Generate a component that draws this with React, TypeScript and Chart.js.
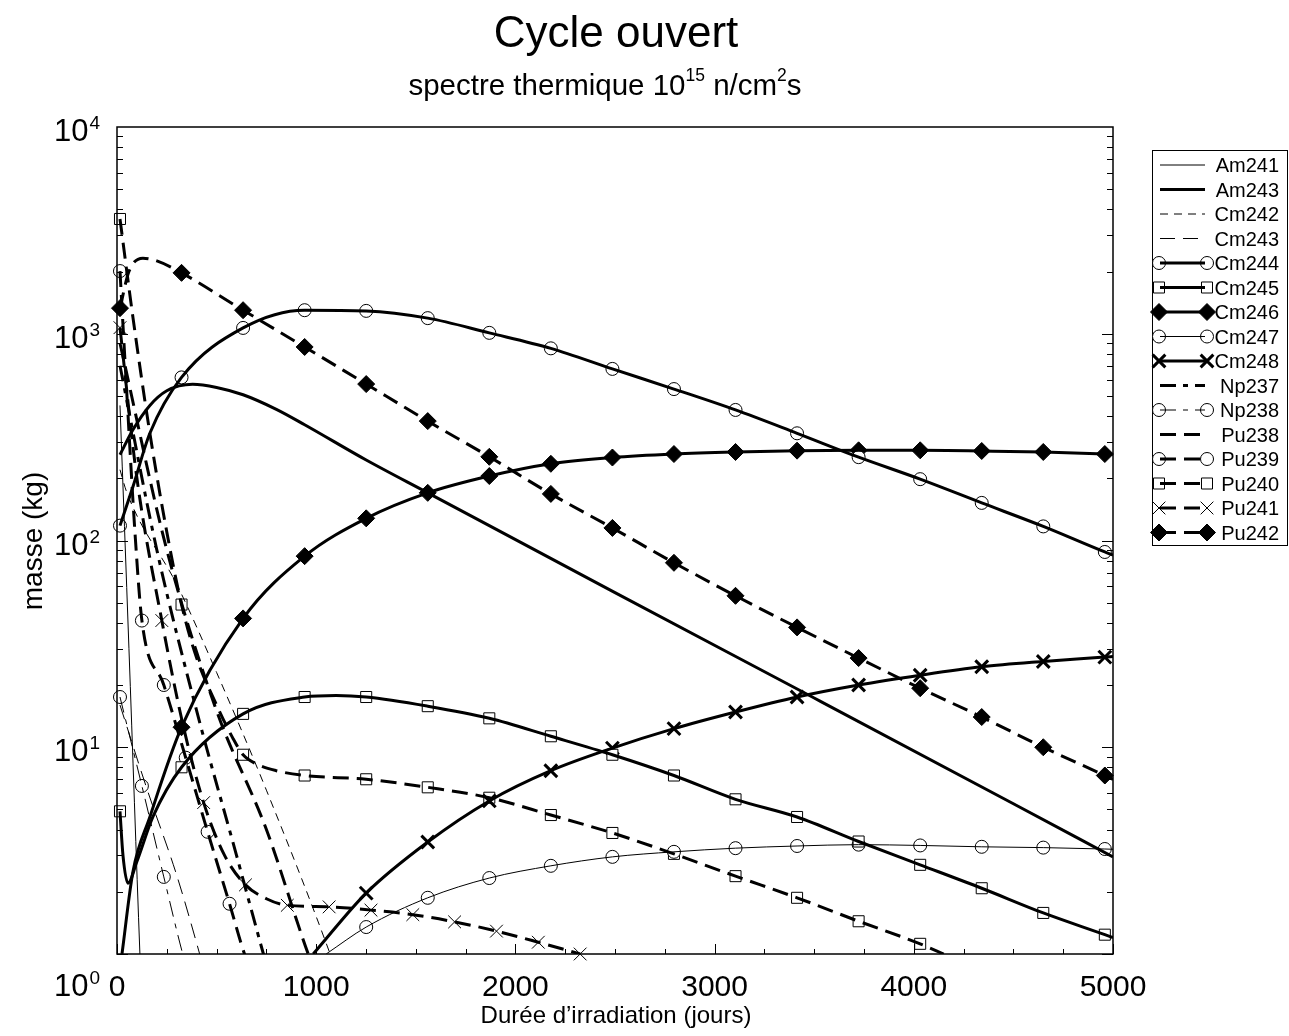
import React, { useEffect, useRef } from "react";
import { Chart, registerables } from "chart.js";
Chart.register(...registerables);

// ---------- data (days, kg) ----------
const xTicksMajor = [0, 1000, 2000, 3000, 4000, 5000];
const yDecades = [0, 1, 2, 3, 4];

const am241T = [15, 60, 115, 140];
const am241V = [450, 30, 1.0, 0.25];

const am243T = [15, 80, 165, 250, 380, 500, 633, 800, 942, 1251, 1560, 2500, 3500, 4500, 5000];
const am243V = [260, 343, 450, 530, 570, 550, 507, 431, 363, 245, 170, 56, 17.3, 5.33, 2.95];

const cm242T = [15, 50, 305, 500, 750, 1070, 1150];
const cm242V = [220, 170, 60, 23, 6.2, 1.0, 0.6];

const cm243T = [15, 150, 300, 415, 450];
const cm243V = [16, 6.3, 2.4, 1.0, 0.75];

const cm244T = [15, 80, 165, 324, 633, 942, 1251, 1560, 1869, 2178, 2487, 2796, 3105, 3414, 3723, 4032, 4341, 4650, 4959, 5000];
const cm244V = [118, 182, 330, 615, 1067, 1300, 1290, 1190, 1010, 850, 676, 540, 428, 330, 253, 198, 152, 117, 88, 85];
const cm244M = [15, 324, 633, 942, 1251, 1560, 1869, 2178, 2487, 2796, 3105, 3414, 3723, 4032, 4341, 4650, 4959];

const cm245T = [15, 30, 55, 100, 180, 324, 633, 942, 1100, 1251, 1560, 1869, 2178, 2487, 2796, 3105, 3414, 3723, 4032, 4341, 4650, 4959, 5000];
const cm245V = [4.9, 3.0, 2.2, 2.8, 4.6, 8.0, 14.5, 17.5, 17.8, 17.5, 15.8, 13.8, 11.3, 9.2, 7.3, 5.6, 4.6, 3.5, 2.7, 2.08, 1.58, 1.24, 1.2];
const cm245M = cm244M;

const cm246T = [25, 80, 165, 324, 633, 942, 1251, 1560, 1869, 2178, 2487, 2796, 3105, 3414, 3723, 4032, 4341, 4650, 4959, 5000];
const cm246V = [1.0, 2.5, 4.6, 12.5, 42, 84, 128, 170, 205, 235, 252, 262, 268, 272, 273, 273, 271, 268, 262, 261];
const cm246M = cm244M.slice(1);

const cm247T = [1050, 1251, 1560, 1869, 2178, 2487, 2796, 3105, 3414, 3723, 4032, 4341, 4650, 4959, 5000];
const cm247V = [1.0, 1.35, 1.87, 2.33, 2.67, 2.95, 3.12, 3.25, 3.33, 3.38, 3.35, 3.3, 3.27, 3.22, 3.21];
const cm247M = cm244M.slice(4);

const cm248T = [985, 1251, 1560, 1869, 2178, 2487, 2796, 3105, 3414, 3723, 4032, 4341, 4650, 4959, 5000];
const cm248V = [1.0, 1.97, 3.48, 5.5, 7.7, 9.9, 12.3, 14.8, 17.5, 20, 22.3, 24.5, 26, 27.3, 27.5];
const cm248M = cm244M.slice(4);

const np237T = [15, 200, 400, 600, 735, 800];
const np237V = [700, 90, 15, 3.0, 1.0, 0.6];

const np238T = [15, 125, 235, 330, 360];
const np238V = [17.5, 6.5, 2.36, 1.0, 0.8];
const np238M = [15, 125, 235];

const pu238T = [15, 250, 500, 750, 960, 1000];
const pu238V = [900, 90, 15, 4.0, 1.0, 0.8];

const pu239T = [15, 50, 90, 125, 235, 345, 455, 565, 640, 680];
const pu239V = [2010, 500, 110, 41, 20, 8.9, 3.9, 1.75, 1.0, 0.8];
const pu239M = [15, 125, 235, 345, 455, 565];

const pu240T = [15, 80, 165, 250, 324, 400, 500, 583, 633, 700, 800, 942, 1251, 1560, 1869, 2178, 2487, 2796, 3105, 3414, 3723, 4032, 4150];
const pu240V = [3590, 1200, 330, 110, 49, 27, 16, 11, 9.2, 8.3, 7.7, 7.3, 7.0, 6.4, 5.7, 4.7, 3.85, 3.05, 2.38, 1.87, 1.44, 1.12, 1.0];
const pu240M = cm244M.slice(0, 14);

const pu241T = [15, 100, 225, 330, 435, 540, 645, 750, 855, 1065, 1275, 1485, 1695, 1905, 2115, 2325];
const pu241V = [1070, 200, 41, 13, 5.4, 3.0, 2.16, 1.85, 1.72, 1.69, 1.63, 1.55, 1.43, 1.29, 1.14, 1.0];
const pu241M = [15, 225, 435, 645, 855, 1065, 1275, 1485, 1695, 1905, 2115, 2325];

const pu242T = [15, 60, 130, 200, 324, 633, 942, 1251, 1560, 1869, 2178, 2487, 2796, 3105, 3414, 3723, 4032, 4341, 4650, 4959, 5000];
const pu242V = [1330, 2000, 2320, 2250, 1970, 1300, 863, 571, 378, 254, 168, 115, 78, 54, 38, 27, 19.3, 14, 10, 7.3, 7.0];
const pu242M = cm244M;

// ---------- styles ----------
type Mk = "none" | "circle" | "square" | "diamond" | "x";
interface S { label: string; t: number[]; v: number[]; m: number[]; w: number; dash: number[]; mk: Mk; mw: number; }
const THIN = 1;
const THICK = 3;
const series: S[] = [
  { label: "Am241", t: am241T, v: am241V, m: [], w: THIN, dash: [], mk: "none", mw: 1 },
  { label: "Am243", t: am243T, v: am243V, m: [], w: THICK, dash: [], mk: "none", mw: 1 },
  { label: "Cm242", t: cm242T, v: cm242V, m: [], w: THIN, dash: [8, 6], mk: "none", mw: 1 },
  { label: "Cm243", t: cm243T, v: cm243V, m: [], w: THIN, dash: [15, 8], mk: "none", mw: 1 },
  { label: "Cm244", t: cm244T, v: cm244V, m: cm244M, w: THICK, dash: [], mk: "circle", mw: 1 },
  { label: "Cm245", t: cm245T, v: cm245V, m: cm245M, w: THICK, dash: [], mk: "square", mw: 1 },
  { label: "Cm246", t: cm246T, v: cm246V, m: cm246M, w: THICK, dash: [], mk: "diamond", mw: 1 },
  { label: "Cm247", t: cm247T, v: cm247V, m: cm247M, w: THIN, dash: [], mk: "circle", mw: 1 },
  { label: "Cm248", t: cm248T, v: cm248V, m: cm248M, w: THICK, dash: [], mk: "x", mw: 3 },
  { label: "Np237", t: np237T, v: np237V, m: [], w: THICK, dash: [16, 7, 5, 7], mk: "none", mw: 1 },
  { label: "Np238", t: np238T, v: np238V, m: np238M, w: THIN, dash: [16, 7, 5, 7], mk: "circle", mw: 1 },
  { label: "Pu238", t: pu238T, v: pu238V, m: [], w: THICK, dash: [16, 8], mk: "none", mw: 1 },
  { label: "Pu239", t: pu239T, v: pu239V, m: pu239M, w: THICK, dash: [16, 8], mk: "circle", mw: 1 },
  { label: "Pu240", t: pu240T, v: pu240V, m: pu240M, w: THICK, dash: [16, 8], mk: "square", mw: 1 },
  { label: "Pu241", t: pu241T, v: pu241V, m: pu241M, w: THICK, dash: [16, 8], mk: "x", mw: 1 },
  { label: "Pu242", t: pu242T, v: pu242V, m: pu242M, w: THICK, dash: [16, 8], mk: "diamond", mw: 1 },
];

const FONT = '"Liberation Sans", Arial, sans-serif';

function markerStyle(mk: Mk): { ps: any; r: number; fill: string } {
  if (mk === "circle") return { ps: "circle", r: 6.5, fill: "#ffffff" };
  if (mk === "square") return { ps: "rect", r: 7.8, fill: "#ffffff" };
  if (mk === "diamond") return { ps: "rectRot", r: 8.5, fill: "#000000" };
  if (mk === "x") return { ps: "crossRot", r: 9, fill: "#ffffff" };
  return { ps: false, r: 0, fill: "#fff" };
}

function drawMarker(ctx: CanvasRenderingContext2D, mk: Mk, x: number, y: number, mw: number) {
  const st = markerStyle(mk);
  ctx.save();
  ctx.setLineDash([]);
  ctx.strokeStyle = "#000";
  ctx.fillStyle = st.fill;
  ctx.lineWidth = mw;
  ctx.beginPath();
  if (mk === "circle") {
    ctx.arc(x, y, st.r, 0, Math.PI * 2);
    ctx.fill();
    ctx.stroke();
  } else if (mk === "square") {
    const s = st.r * Math.SQRT1_2;
    ctx.rect(x - s, y - s, 2 * s, 2 * s);
    ctx.fill();
    ctx.stroke();
  } else if (mk === "diamond") {
    const r = st.r;
    ctx.moveTo(x, y - r);
    ctx.lineTo(x + r, y);
    ctx.lineTo(x, y + r);
    ctx.lineTo(x - r, y);
    ctx.closePath();
    ctx.fill();
    ctx.stroke();
  } else if (mk === "x") {
    const o = st.r * Math.SQRT1_2;
    ctx.moveTo(x - o, y - o);
    ctx.lineTo(x + o, y + o);
    ctx.moveTo(x + o, y - o);
    ctx.lineTo(x - o, y + o);
    ctx.stroke();
  }
  ctx.restore();
}

function drawPow(ctx: CanvasRenderingContext2D, base: string, exp: string, xRight: number, baseline: number) {
  ctx.save();
  ctx.textBaseline = "alphabetic";
  ctx.textAlign = "left";
  ctx.font = `19px ${FONT}`;
  const ew = ctx.measureText(exp).width;
  ctx.font = `31px ${FONT}`;
  const bw = ctx.measureText(base).width;
  ctx.fillText(base, xRight - ew - bw - 1, baseline);
  ctx.font = `19px ${FONT}`;
  ctx.fillText(exp, xRight - ew, baseline - 12);
  ctx.restore();
}

const decorPlugin = {
  id: "decor",
  beforeDraw(chart: any) {
    const ctx = chart.ctx as CanvasRenderingContext2D;
    ctx.save();
    ctx.fillStyle = "#ffffff";
    ctx.fillRect(0, 0, chart.width, chart.height);
    ctx.restore();
  },
  afterDraw(chart: any) {
    const ctx = chart.ctx as CanvasRenderingContext2D;
    const a = chart.chartArea;
    const xs = chart.scales.x;
    const ys = chart.scales.y;
    ctx.save();
    ctx.fillStyle = "#000";
    ctx.strokeStyle = "#000";
    ctx.setLineDash([]);

    // frame
    ctx.lineWidth = 1.5;
    ctx.strokeRect(a.left, a.top, a.right - a.left, a.bottom - a.top);

    // y ticks (left and right, inward)
    ctx.lineWidth = 1;
    for (let d = 0; d < 4; d++) {
      for (let k = 1; k <= 9; k++) {
        const v = k * Math.pow(10, d);
        const py = Math.round(ys.getPixelForValue(v)) + 0.5;
        const len = k === 1 ? 11 : 6;
        ctx.beginPath();
        ctx.moveTo(a.left, py);
        ctx.lineTo(a.left + len, py);
        ctx.moveTo(a.right, py);
        ctx.lineTo(a.right - len, py);
        ctx.stroke();
      }
    }
    // x ticks (bottom, inward)
    for (let v = 0; v <= 5000; v += 250) {
      const px = Math.round(xs.getPixelForValue(v)) + 0.5;
      const len = v % 1000 === 0 ? 10 : 5;
      ctx.beginPath();
      ctx.moveTo(px, a.bottom);
      ctx.lineTo(px, a.bottom - len);
      ctx.stroke();
    }

    // x tick labels
    ctx.font = `30px ${FONT}`;
    ctx.textAlign = "center";
    ctx.textBaseline = "alphabetic";
    for (const v of xTicksMajor) {
      ctx.fillText(String(v), xs.getPixelForValue(v), a.bottom + 42);
    }
    // y tick labels
    for (const d of yDecades) {
      const py = ys.getPixelForValue(Math.pow(10, d));
      const baseline = d === 0 ? a.bottom + 42 : py + 14;
      drawPow(ctx, "10", String(d), 100, baseline);
    }

    // titles
    ctx.textAlign = "center";
    ctx.font = `44px ${FONT}`;
    ctx.fillText("Cycle ouvert", 616, 47);

    // subtitle with superscripts
    const parts: [string, boolean][] = [["spectre thermique 10", false], ["15", true], [" n/cm", false], ["2", true], ["s", false]];
    const big = `29.5px ${FONT}`;
    const small = `17.5px ${FONT}`;
    let total = 0;
    for (const [s, sup] of parts) {
      ctx.font = sup ? small : big;
      total += ctx.measureText(s).width;
    }
    let cx = 605 - total / 2;
    ctx.textAlign = "left";
    for (const [s, sup] of parts) {
      ctx.font = sup ? small : big;
      ctx.fillText(s, cx, sup ? 81 : 95);
      cx += ctx.measureText(s).width;
    }

    // axis titles
    ctx.textAlign = "center";
    ctx.font = `24px ${FONT}`;
    ctx.fillText("Durée d\u2019irradiation (jours)", 616, 1023);
    ctx.save();
    ctx.translate(42, 541);
    ctx.rotate(-Math.PI / 2);
    ctx.font = `28px ${FONT}`;
    ctx.fillText("masse (kg)", 0, 0);
    ctx.restore();

    // legend
    const L = 1152, T = 150, R = 1287, B = 545;
    ctx.lineWidth = 1;
    ctx.strokeRect(L + 0.5, T + 0.5, R - L, B - T);
    ctx.font = `20px ${FONT}`;
    ctx.textAlign = "right";
    series.forEach((s, i) => {
      const y = 165 + i * 24.5;
      if (s.mk !== "none") {
        drawMarker(ctx, s.mk, 1159, y, s.mw);
        drawMarker(ctx, s.mk, 1207, y, s.mw);
      }
      ctx.save();
      ctx.lineWidth = s.w;
      ctx.setLineDash(s.dash);
      ctx.beginPath();
      ctx.moveTo(1160, y);
      ctx.lineTo(1205, y);
      ctx.stroke();
      ctx.restore();
      ctx.fillText(s.label, 1279, y + 7);
    });
    ctx.restore();
  },
};

export default function App() {
  const ref = useRef<HTMLCanvasElement | null>(null);
  useEffect(() => {
    if (!ref.current) return;
    const datasets: any[] = [];
    for (const s of series) {
      datasets.push({
        label: s.label,
        data: s.t.map((t, i) => ({ x: t, y: s.v[i] })),
        borderColor: "#000",
        borderWidth: s.w,
        borderDash: s.dash,
        pointRadius: 0,
        fill: false,
        cubicInterpolationMode: "monotone",
      });
    }
    for (const s of series) {
      if (s.mk === "none") continue;
      const st = markerStyle(s.mk);
      datasets.push({
        label: s.label + " markers",
        data: s.t.map((t, i) => ({ x: t, y: s.v[i] })).filter((p) => s.m.includes(p.x)),
        showLine: false,
        pointStyle: st.ps,
        pointRadius: st.r,
        pointBorderWidth: s.mw,
        pointBorderColor: "#000",
        pointBackgroundColor: st.fill,
        clip: false,
      });
    }
    const chart = new Chart(ref.current, {
      type: "line",
      data: { datasets },
      options: {
        animation: false,
        responsive: false,
        events: [],
        layout: { padding: { left: 117, top: 127, right: 1289 - 1113, bottom: 1036 - 954 } },
        plugins: { legend: { display: false }, tooltip: { enabled: false }, title: { display: false } },
        scales: {
          x: { type: "linear", min: 0, max: 5000, display: false },
          y: { type: "logarithmic", min: 1, max: 10000, display: false },
        },
      },
      plugins: [decorPlugin],
    });
    return () => chart.destroy();
  }, []);
  return (
    <div style={{ position: "fixed", left: 0, top: 0, width: 1289, height: 1036, background: "#fff" }}>
      <canvas ref={ref} width={1289} height={1036} style={{ width: 1289, height: 1036, display: "block" }} />
    </div>
  );
}
